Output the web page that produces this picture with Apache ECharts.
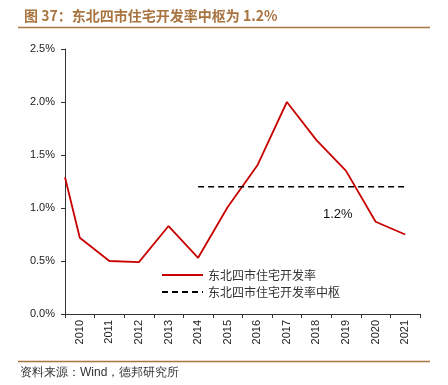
<!DOCTYPE html>
<html>
<head>
<meta charset="utf-8">
<script src="https://cdn.jsdelivr.net/npm/echarts@6/dist/echarts.min.js"></script>
<style>html,body{margin:0;padding:0;background:#fff}#c{width:448px;height:385px}</style>
</head>
<body>
<div id="c"></div>
<script>
// Data
const years = ['2010','2011','2012','2013','2014','2015','2016','2017','2018','2019','2020','2021'];
const rateX = [2009.5, 2010, 2011, 2012, 2013, 2014, 2015, 2016, 2017, 2018, 2019, 2020, 2021];
const rateValues = [1.29, 0.72, 0.50, 0.49, 0.83, 0.53, 1.01, 1.40, 2.00, 1.64, 1.35, 0.87, 0.75];
const centerX = [2014, 2015, 2016, 2017, 2018, 2019, 2020, 2021];
const centerValues = [1.2, 1.2, 1.2, 1.2, 1.2, 1.2, 1.2, 1.2];
const yTicks = [0, 0.5, 1.0, 1.5, 2.0, 2.5];
const seriesNames = ['东北四市住宅开发率', '东北四市住宅开发率中枢'];
const titleText = '图 37：东北四市住宅开发率中枢为 1.2%';
const sourceText = '资料来源：Wind，德邦研究所';
const centerLabel = '1.2%';

const chart = echarts.init(document.getElementById('c'));
const cjk = "'Noto Sans CJK SC', 'Liberation Sans', sans-serif";
const latin = "'Liberation Sans', Arial, sans-serif";
chart.setOption({
  animation: false,
  title: {
    text: titleText, left: 19, top: 4,
    textStyle: {fontSize: 14, fontWeight: 'bold', color: '#A8743F', fontFamily: cjk}
  },
  grid: {left: 65, right: 28, top: 49, bottom: 71},
  xAxis: [{
    type: 'category', data: years, boundaryGap: true,
    axisLine: {lineStyle: {color: '#333', width: 1}},
    axisTick: {show: true, length: 4, lineStyle: {color: '#333'}},
    axisLabel: {rotate: 90, fontSize: 11, color: '#222', fontFamily: latin, margin: 6}
  }, {
    type: 'value', min: 2009.5, max: 2021.5, show: false
  }],
  yAxis: {
    type: 'value', min: yTicks[0], max: yTicks[yTicks.length - 1], interval: 0.5,
    axisLine: {show: true, lineStyle: {color: '#333', width: 1}},
    axisTick: {show: true, length: 4, lineStyle: {color: '#333'}},
    splitLine: {show: false},
    axisLabel: {fontSize: 11, color: '#222', fontFamily: latin, margin: 10,
      formatter: v => v.toFixed(1) + '%'}
  },
  legend: {
    orient: 'vertical', left: 156, top: 264, itemWidth: 41, itemHeight: 14, itemGap: 5,
    itemStyle: {opacity: 0},
    textStyle: {fontSize: 12, color: '#333', fontFamily: cjk},
    data: seriesNames
  },
  series: [{
    name: seriesNames[0], type: 'line', xAxisIndex: 1, symbol: 'none', clip: true,
    lineStyle: {color: '#C80000', width: 1.8}, itemStyle: {color: '#C80000'},
    data: rateX.map((x, i) => [x, rateValues[i]])
  }, {
    name: seriesNames[1], type: 'line', xAxisIndex: 1, symbol: 'none',
    lineStyle: {color: '#000', width: 1.6, type: [6, 4]}, itemStyle: {color: '#000'},
    data: centerX.map((x, i) => [x, centerValues[i]])
  }],
  graphic: [
    {type: 'line', shape: {x1: 18, y1: 27.5, x2: 430, y2: 27.5}, style: {stroke: '#A8743F', lineWidth: 1.5}},
    {type: 'line', shape: {x1: 18, y1: 361.5, x2: 430, y2: 361.5}, style: {stroke: '#A8743F', lineWidth: 1.5}},
    {type: 'text', left: 20, top: 367, style: {text: sourceText, fontSize: 12, fill: '#333', font: "12px 'Noto Sans CJK SC', sans-serif"}},
    {type: 'text', left: 323, top: 208, style: {text: centerLabel, fill: '#111', font: "13px 'Liberation Sans', Arial, sans-serif"}}
  ]
});
</script>
</body>
</html>
